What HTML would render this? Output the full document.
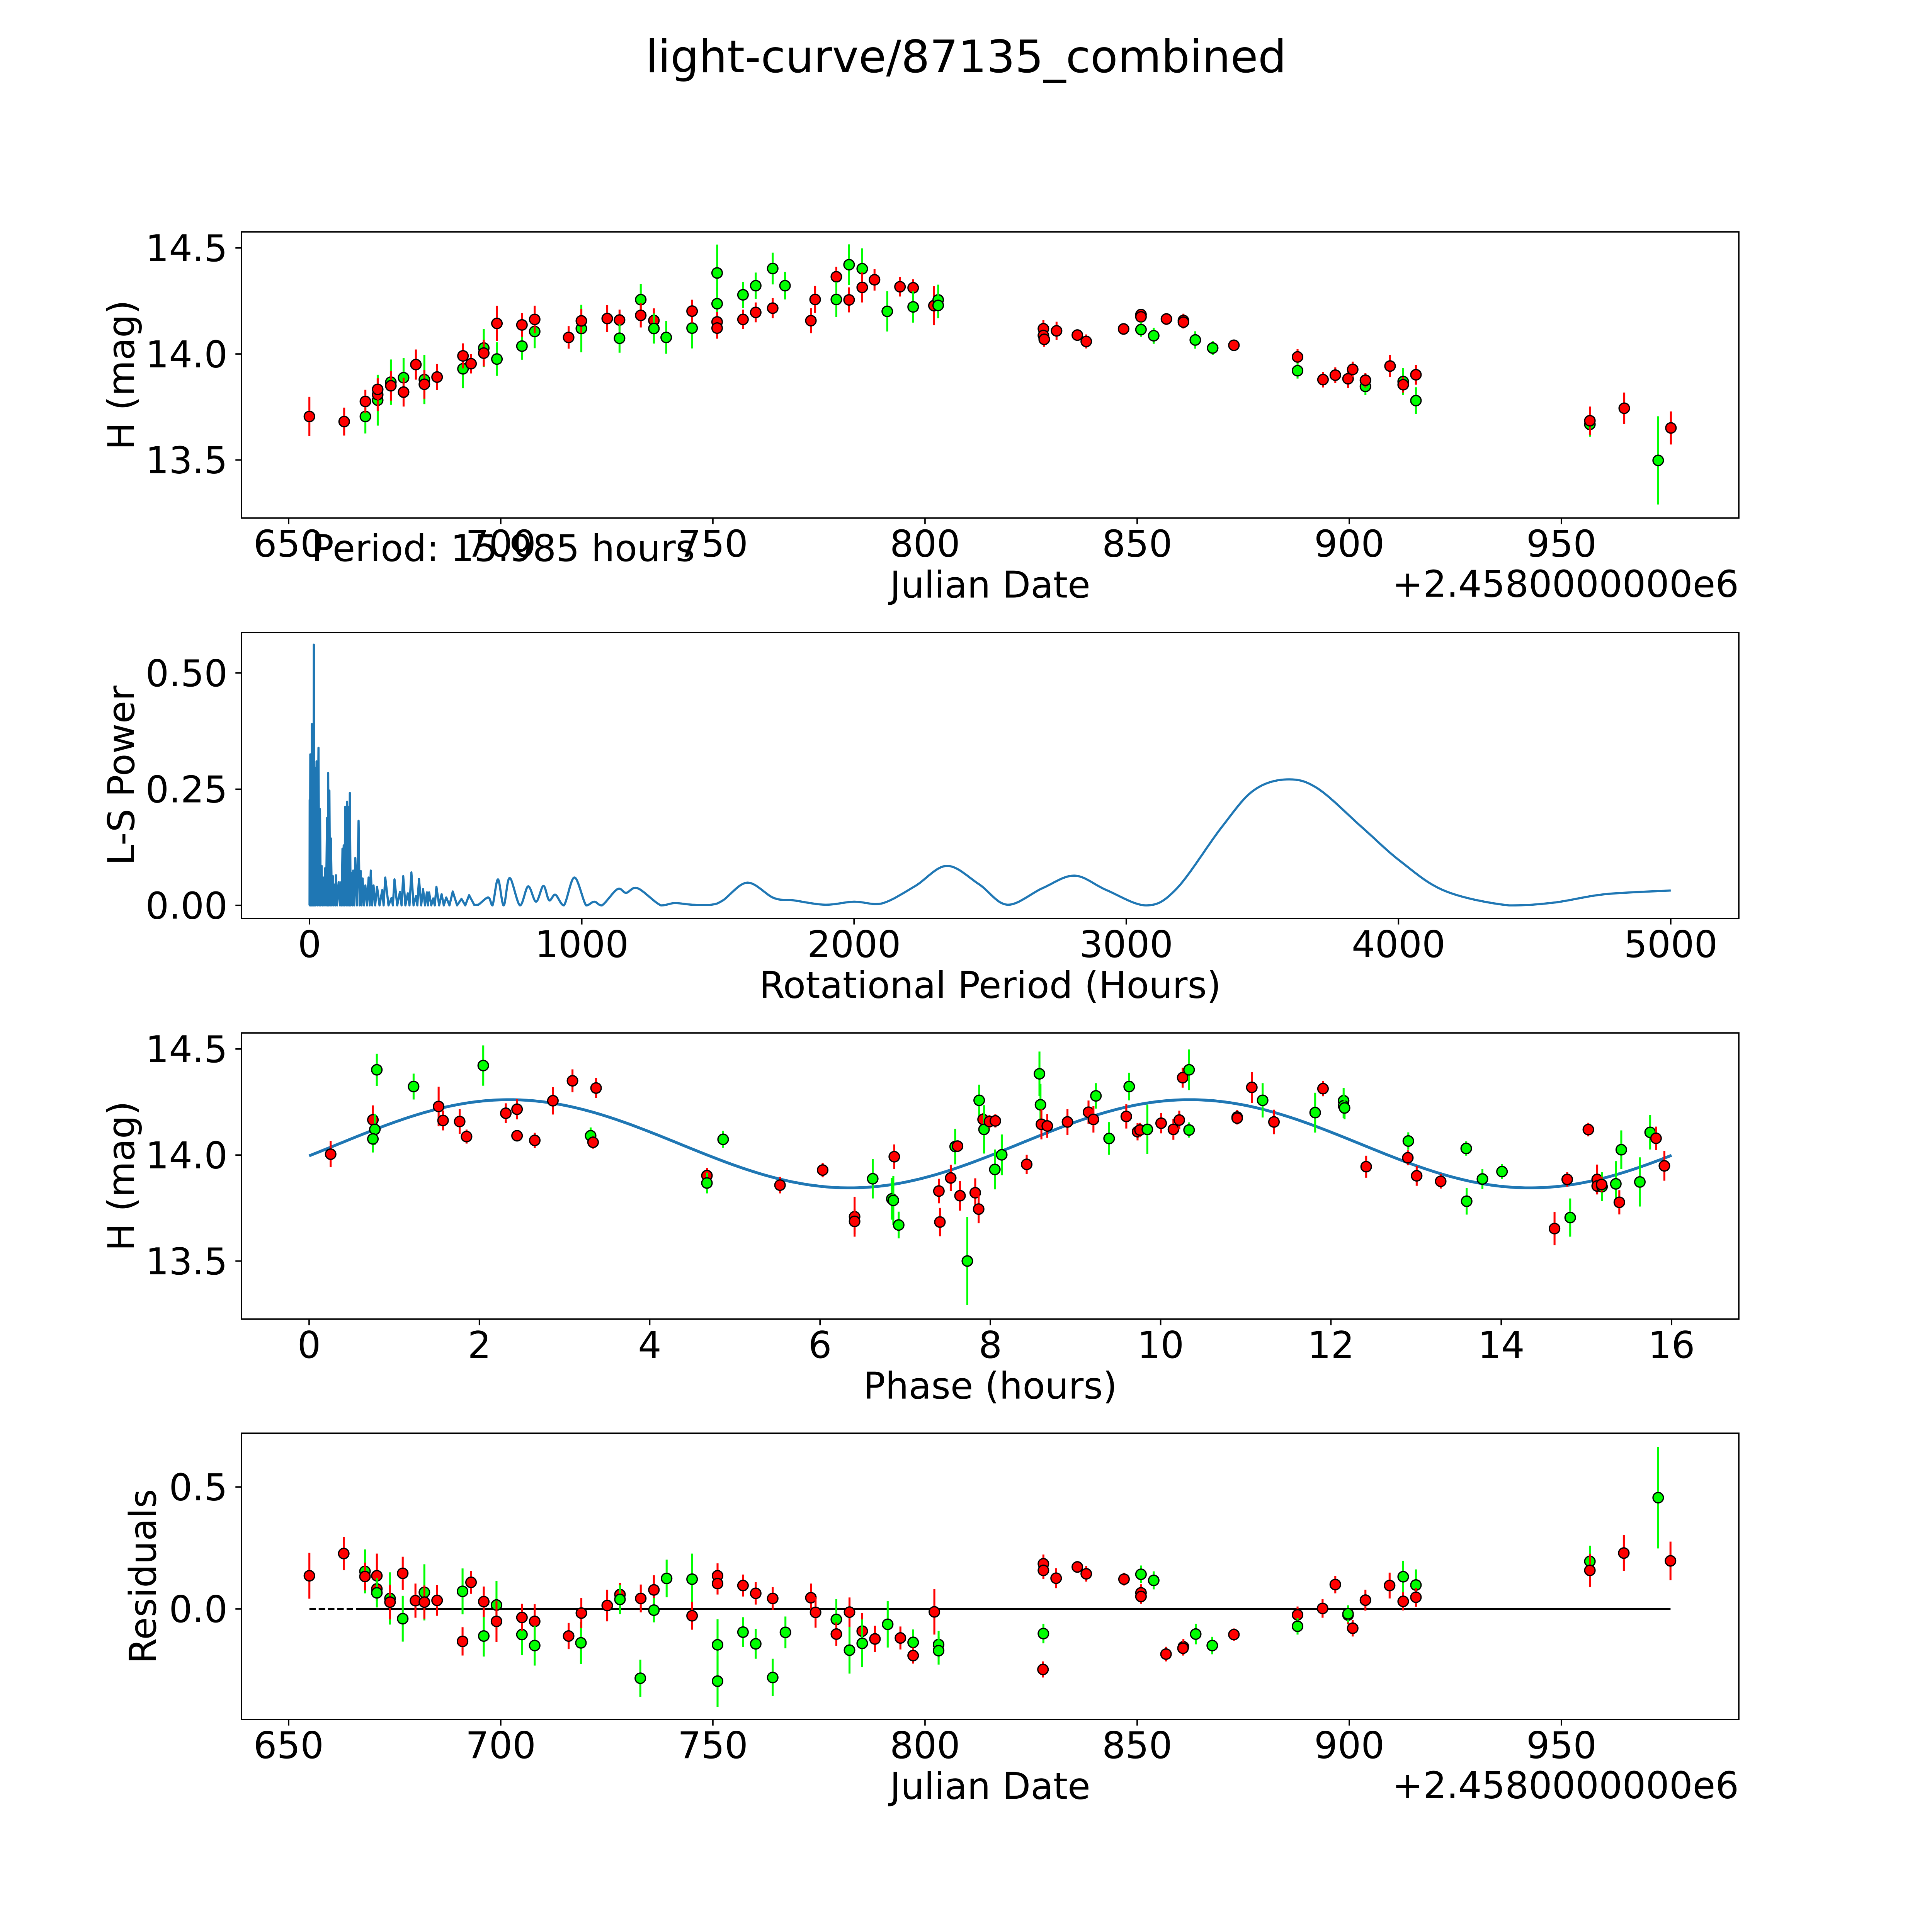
<!DOCTYPE html>
<html>
<head>
<meta charset="utf-8">
<style>
html,body{margin:0;padding:0;background:#fff;width:100%;height:100%;overflow:hidden;}
svg{display:block;width:100vw;height:100vh;}
text{font-family:"DejaVu Sans","Liberation Sans",sans-serif;fill:#000;}
</style>
</head>
<body>
<svg id="fig" xmlns="http://www.w3.org/2000/svg" viewBox="0 0 5400 5400" preserveAspectRatio="none">
<rect x="0" y="0" width="5400" height="5400" fill="#fff"/>
<text x="2700" y="202" font-size="125" text-anchor="middle">light-curve/87135_combined</text>
</svg>
<script>
// ---------- Panel 1: light curve ----------
const lcDay = [654.9,663.1,668.1,668.1,671.0,671.0,671.0,674.1,674.1,677.1,677.1,680.0,682.0,682.0,685.0,691.1,691.1,693.0,696.0,696.0,699.1,699.1,705.0,705.0,708.0,708.0,716.0,719.0,719.0,725.1,728.0,728.0,733.0,733.0,736.1,736.1,739.0,745.1,745.1,751.0,751.0,751.0,751.0,757.1,757.1,760.1,760.1,764.1,764.1,767.0,773.1,774.1,779.1,779.1,782.1,782.1,785.2,785.2,788.1,791.1,794.1,797.2,797.2,802.1,803.1,803.1,
827.9,827.9,828.1,831.0,835.9,838.0,846.8,850.9,850.9,850.9,853.9,856.9,860.9,860.9,863.7,867.8,872.8,887.8,887.8,893.8,896.7,899.7,900.8,903.8,903.8,909.6,912.7,912.7,915.7,915.7,956.7,956.7,964.8,972.8,975.8];
const lcMag = [13.705,13.681,13.705,13.776,13.782,13.808,13.833,13.867,13.850,13.888,13.820,13.950,13.879,13.857,13.891,13.930,13.991,13.954,14.028,14.004,13.976,14.144,14.037,14.137,14.106,14.163,14.078,14.120,14.156,14.167,14.160,14.074,14.256,14.182,14.158,14.120,14.078,14.122,14.202,14.382,14.237,14.151,14.122,14.279,14.163,14.322,14.196,14.403,14.216,14.322,14.157,14.257,14.364,14.257,14.421,14.255,14.402,14.314,14.350,14.201,14.317,14.312,14.222,14.228,14.255,14.229,
14.119,14.087,14.069,14.109,14.089,14.059,14.118,14.186,14.175,14.115,14.086,14.165,14.158,14.150,14.066,14.028,14.041,13.986,13.921,13.879,13.900,13.883,13.927,13.847,13.876,13.943,13.870,13.855,13.902,13.780,13.668,13.685,13.744,13.498,13.651];
const lcErr = [0.093,0.066,0.08,0.055,0.12,0.077,0.05,0.107,0.07,0.093,0.068,0.071,0.116,0.068,0.062,0.092,0.059,0.046,0.09,0.063,0.079,0.083,0.064,0.056,0.079,0.065,0.053,0.112,0.057,0.063,0.049,0.068,0.074,0.057,0.057,0.071,0.077,0.096,0.054,0.134,0.077,0.047,0.05,0.062,0.046,0.062,0.047,0.075,0.047,0.065,0.059,0.064,0.047,0.083,0.096,0.059,0.096,0.071,0.051,0.095,0.046,0.04,0.074,0.092,0.072,0.06,
0.041,0.04,0.035,0.043,0.024,0.033,0.025,0.025,0.02,0.034,0.038,0.028,0.032,0.03,0.041,0.033,0.025,0.036,0.037,0.037,0.037,0.043,0.037,0.041,0.034,0.052,0.063,0.037,0.047,0.063,0.058,0.067,0.074,0.208,0.078];
const lcBand = ["r","r","g","r","g","r","r","g","r","g","r","r","g","r","r","g","r","r","g","r","g","r","g","r","g","r","r","g","r","r","r","g","g","r","r","g","g","g","r","g","g","r","r","g","r","g","r","g","r","g","r","r","r","g","g","r","g","r","r","g","r","r","g","r","g","g",
"r","r","r","r","r","r","r","r","r","g","g","r","r","r","g","g","r","r","g","r","r","r","r","g","r","r","g","r","r","g","g","r","r","g","r"];
const lcXTicks = [650,700,750,800,850,900,950];
const lcYTicks = [13.5,14.0,14.5];
const lcYTickLabels = ["13.5","14.0","14.5"];

// ---------- Panel 2: Lomb-Scargle periodogram ----------
const lsPeriod = [0,0.5,1.5,2.9,4.5,6,7,8.6,11,13,14.5,15.7,17.5,20,22.5,25.7,29,32.8,35.5,38.5,41,44.2,47,50,53,57.1,60.5,64.2,66.5,68.5,70.5,72.8,75.5,78.5,82,85.6,89,93,95,97,101,107,112,116,118,121,123,125.5,128,131,134.5,138,141,144,146,148,151,155.5,158,160,164,168,174,180,184,188,191,195,200,205,211,217,221,225,230,235,241,248,257,267,272,278,290,301,306,312,322,332,338,344,352,361,367,374,382,391,396,402,410,417,424,431,435,439,447,454,460,466,476,485,493,502,514,526,542,558,572,586,605,620,
656,672,692,713,735,773,803,832,859,880,903,934,973,1016,1046,1074,1131,1163,1205,1291,1341,1405,1476,1519,1608,1705,1776,1894,2000,2101,2223,2340,2458,2563,2692,2810,2927,3073,3185,3350,3467,3589,3702,3866,4007,4171,4406,4571,4758,5000];
const lsPower = [0,0.227,0,0.325,0,0.16,0,0.39,0,0.1,0,0.561,0,0.296,0,0.31,0,0.339,0,0.207,0,0.085,0,0.06,0,0.08,0,0.188,0,0.285,0,0.247,0,0.144,0,0.063,0,0.045,0,0.065,0,0.05,0,0.05,0,0.122,0,0.129,0,0.212,0,0.223,0,0.212,0,0.242,0,0.07,0,0.075,0,0.102,0,0.182,0,0.074,0,0.058,0,0.043,0,0.06,0,0.075,0,0.043,0,0.04,0,0.033,0,0.06,0,0.016,0,0.056,0,0.029,0,0.063,0,0.026,0,0.071,0,0.02,0,0.057,0,0.035,0,0.028,0,0.028,0,0.015,0,0.04,0,0.024,0,0.017,0,0.03,0,0.014,0,0.022,0.001,0.0015,
0.017,0,0.056,0,0.059,0,0.041,0.008,0.042,0.011,0.023,0,0.06,0,0.008,0,0.035,0.027,0.037,0,0.005,0.0015,0.0015,0.011,0.049,0.016,0.011,0.0015,0.008,0.004,0.041,0.085,0.046,0.0015,0.037,0.064,0.033,0,0.036,0.168,0.247,0.271,0.252,0.168,0.095,0.031,0,0.006,0.024,0.032];
const lsXTicks = [0,1000,2000,3000,4000,5000];
const lsYTicks = [0,0.25,0.5];
const lsYTickLabels = ["0.00","0.25","0.50"];

// ---------- Panel 3: phased light curve ----------
const phHour = [0.253,0.749,0.772,0.749,0.795,1.227,1.521,1.573,1.768,1.849,2.045,2.310,2.442,2.442,2.650,2.863,3.093,3.306,3.335,3.370,4.672,4.672,4.862,5.530,6.031,6.406,6.406,6.619,6.843,6.861,6.872,6.924,7.396,7.408,7.535,7.587,7.615,7.644,7.730,7.823,7.863,7.869,7.915,7.926,7.990,8.059,8.053,8.134,
8.427,8.577,8.589,8.600,8.669,8.906,9.153,9.211,9.240,9.395,9.597,9.631,9.729,9.758,9.844,10.006,10.150,10.219,10.259,10.334,10.334,10.899,10.899,11.071,11.198,11.331,11.815,11.907,12.149,12.149,12.160,12.414,12.909,12.903,13.007,13.289,13.589,13.594,13.779,14.009,14.626,14.775,14.810,15.023,15.127,15.127,15.184,15.179,15.346,15.387,15.410,15.628,15.749,15.818,15.916];
const phMag = [14.004,14.166,14.121,14.076,14.402,14.323,14.229,14.163,14.158,14.087,14.422,14.197,14.216,14.091,14.069,14.256,14.350,14.091,14.060,14.316,13.903,13.868,14.074,13.858,13.929,13.709,13.687,13.888,13.793,13.786,13.992,13.670,13.830,13.684,13.892,14.040,14.042,13.808,13.500,13.822,13.745,14.258,14.168,14.121,14.158,14.161,13.932,14.001,
13.956,14.383,14.237,14.145,14.137,14.156,14.202,14.168,14.279,14.078,14.182,14.323,14.110,14.118,14.121,14.150,14.121,14.165,14.365,14.402,14.118,14.179,14.174,14.319,14.258,14.156,14.200,14.313,14.256,14.232,14.222,13.945,14.066,13.987,13.902,13.876,14.031,13.782,13.887,13.922,13.653,13.885,13.705,14.120,13.885,13.854,13.851,13.861,13.864,13.777,14.025,13.873,14.107,14.079,13.949];
const phErr = [0.062,0.068,0.073,0.064,0.076,0.061,0.093,0.047,0.059,0.033,0.095,0.047,0.048,0.023,0.036,0.065,0.054,0.039,0.03,0.047,0.036,0.049,0.04,0.039,0.034,0.094,0.06,0.093,0.098,0.116,0.058,0.063,0.058,0.067,0.062,0.084,0.022,0.07,0.208,0.068,0.067,0.074,0.03,0.114,0.03,0.031,0.094,0.096,
0.045,0.105,0.099,0.071,0.056,0.061,0.055,0.062,0.06,0.077,0.057,0.065,0.041,0.034,0.117,0.048,0.049,0.044,0.047,0.096,0.036,0.034,0.03,0.073,0.081,0.058,0.094,0.036,0.061,0.058,0.053,0.052,0.041,0.035,0.047,0.034,0.034,0.063,0.047,0.035,0.078,0.034,0.09,0.032,0.07,0.04,0.068,0.037,0.107,0.057,0.091,0.116,0.081,0.055,0.07];
const phBand = ["r","r","g","g","g","g","r","r","r","r","g","r","r","r","r","r","r","g","r","r","r","g","g","r","r","r","r","g","g","g","r","g","r","r","r","g","r","r","g","r","r","g","r","g","r","r","g","g",
"r","g","g","r","r","r","r","r","g","g","r","g","r","r","g","r","r","r","r","g","g","r","r","r","g","r","g","r","g","g","g","r","g","r","r","r","g","g","g","g","r","r","g","r","r","r","g","r","g","r","g","g","g","r","r"];
const fitMean = 14.053;
const fitAmp = 0.208;
const fitPeakHour = 2.35;
const fitCycleHours = 7.9925;
const phXTicks = [0,2,4,6,8,10,12,14,16];

// ---------- Panel 4: residuals ----------
const resDay = [654.9,663.0,668.0,668.0,670.8,670.8,670.8,673.9,673.9,676.9,676.9,679.9,682.0,682.0,685.0,691.0,691.0,693.0,696.0,696.0,699.0,699.0,705.0,705.0,708.0,708.0,716.0,718.9,719.0,725.1,728.1,728.1,732.9,733.0,736.1,736.1,739.1,745.1,745.1,751.1,751.1,751.1,751.1,757.1,757.1,760.1,760.1,764.1,764.1,767.1,773.1,774.2,779.1,779.1,782.2,782.2,785.2,785.2,788.2,791.2,794.2,797.2,797.2,802.2,803.2,803.2,
827.9,827.9,827.9,827.8,830.9,835.9,838.0,846.9,850.9,850.9,850.9,853.9,856.8,860.9,860.8,863.8,867.7,872.8,887.8,887.8,893.7,896.7,899.7,899.7,900.8,903.8,909.5,912.7,912.7,915.7,915.7,956.7,956.7,964.7,972.8,975.7];
const resVal = [0.136,0.227,0.154,0.133,0.136,0.082,0.066,0.043,0.028,0.146,-0.040,0.034,0.068,0.028,0.035,0.072,-0.133,0.109,-0.111,0.030,0.016,-0.051,-0.105,-0.035,-0.051,-0.150,-0.111,-0.139,-0.017,0.014,0.059,0.039,-0.284,0.043,0.078,-0.005,0.125,0.122,-0.028,0.136,0.104,-0.147,-0.296,0.096,-0.095,0.064,-0.143,0.043,-0.281,-0.096,0.046,-0.014,-0.043,-0.103,-0.013,-0.169,-0.091,-0.141,-0.123,-0.063,-0.119,-0.137,-0.191,-0.012,-0.146,-0.171,
0.185,0.158,-0.101,-0.248,0.126,0.172,0.144,0.122,0.142,0.066,0.051,0.117,-0.185,-0.155,-0.161,-0.103,-0.150,-0.105,-0.024,-0.071,0.002,0.1,-0.025,-0.02,-0.079,0.036,0.096,0.132,0.031,0.098,0.048,0.195,0.158,0.229,0.456,0.197];
const resErr = [0.094,0.068,0.09,0.057,0.091,0.05,0.06,0.107,0.071,0.068,0.094,0.07,0.115,0.068,0.063,0.094,0.058,0.047,0.084,0.062,0.098,0.084,0.084,0.056,0.07,0.082,0.054,0.086,0.062,0.065,0.048,0.06,0.076,0.057,0.06,0.05,0.077,0.105,0.057,0.051,0.045,0.105,0.105,0.045,0.061,0.046,0.061,0.047,0.077,0.065,0.058,0.063,0.083,0.048,0.06,0.096,0.074,0.098,0.054,0.095,0.047,0.053,0.033,0.093,0.056,0.057,
0.038,0.035,0.04,0.033,0.041,0.024,0.032,0.026,0.036,0.035,0.03,0.037,0.03,0.032,0.03,0.042,0.036,0.025,0.034,0.034,0.038,0.036,0.038,0.035,0.034,0.043,0.053,0.065,0.037,0.064,0.039,0.064,0.068,0.074,0.208,0.079];
const resBand = ["r","r","g","r","r","r","g","g","r","r","g","r","g","r","r","g","r","r","g","r","g","r","g","r","r","g","r","g","r","r","r","g","g","r","r","g","g","g","r","r","r","g","g","r","g","r","g","r","g","g","r","r","g","r","r","g","r","g","r","g","r","g","r","r","g","g",
"r","r","g","r","r","r","r","r","g","r","r","g","r","r","r","g","g","r","r","g","r","r","r","g","r","r","r","g","r","g","r","g","r","r","g","r"];
const resYTicks = [0,0.5];
const resYTickLabels = ["0.0","0.5"];

// ---------- drawing ----------
const NS = "http://www.w3.org/2000/svg";
const svg = document.getElementById("fig");
const AX_L = 675, AX_R = 4860;
const FS = 103;
const COLORS = {r:"#ff0000", g:"#00ff00"};

function el(tag, parent) {
  const e = document.createElementNS(NS, tag);
  (parent || svg).appendChild(e);
  return e;
}
function makeAxis(top, bot, xmin, xmax, ymin, ymax) {
  return {top:top, bot:bot, xmin:xmin, xmax:xmax, ymin:ymin, ymax:ymax,
    sx: function(v){ return AX_L + (v - xmin) / (xmax - xmin) * (AX_R - AX_L); },
    sy: function(v){ return bot - (v - ymin) / (ymax - ymin) * (bot - top); }};
}
const ax1 = makeAxis(648, 1448, 638.9, 991.8, 13.226, 14.576);
const ax2 = makeAxis(1768, 2567, -250, 5250, -0.028, 0.587);
const ax3 = makeAxis(2887, 3687, -0.794, 16.79, 13.226, 14.576);
const ax4 = makeAxis(4006, 4806, 638.9, 991.8, -0.453, 0.720);

function drawFrame(ax, name, xTicks, xLabels, yTicks, yLabels, xTitle, yTitle, yTitleX) {
  const g = el("g");
  
  
  xTicks.forEach(function(t, i) {
    const x = ax.sx(t);
    const tk = el("line", g);
    tk.setAttribute("x1", x); tk.setAttribute("x2", x);
    tk.setAttribute("y1", ax.bot); tk.setAttribute("y2", ax.bot + 17);
    tk.setAttribute("stroke", "#000"); tk.setAttribute("stroke-width", "4");
    
    
    const tl = el("text", g);
    tl.setAttribute("x", x); tl.setAttribute("y", ax.bot + 108);
    tl.setAttribute("font-size", FS); tl.setAttribute("text-anchor", "middle");
    tl.textContent = xLabels[i];
    
    
  });
  yTicks.forEach(function(t, i) {
    const y = ax.sy(t);
    const tk = el("line", g);
    tk.setAttribute("x1", AX_L - 17); tk.setAttribute("x2", AX_L);
    tk.setAttribute("y1", y); tk.setAttribute("y2", y);
    tk.setAttribute("stroke", "#000"); tk.setAttribute("stroke-width", "4");
    
    
    const tl = el("text", g);
    tl.setAttribute("x", AX_L - 39); tl.setAttribute("y", y + 37);
    tl.setAttribute("font-size", FS); tl.setAttribute("text-anchor", "end");
    tl.textContent = yLabels[i];
    
    
  });
  const xt = el("text", g);
  xt.setAttribute("x", (AX_L + AX_R) / 2); xt.setAttribute("y", ax.bot + 222);
  xt.setAttribute("font-size", FS); xt.setAttribute("text-anchor", "middle");
  xt.textContent = xTitle;
  
  
  const cy = (ax.top + ax.bot) / 2;
  const yt = el("text", g);
  yt.setAttribute("x", yTitleX); yt.setAttribute("y", cy);
  yt.setAttribute("font-size", FS); yt.setAttribute("text-anchor", "middle");
  yt.setAttribute("transform", "rotate(-90 " + yTitleX + " " + cy + ")");
  yt.textContent = yTitle;
  
  
  return g;
}
function drawBorder(ax, name) {
  const r = el("rect");
  r.setAttribute("x", AX_L); r.setAttribute("y", ax.top);
  r.setAttribute("width", AX_R - AX_L); r.setAttribute("height", ax.bot - ax.top);
  r.setAttribute("fill", "none"); r.setAttribute("stroke", "#000"); r.setAttribute("stroke-width", "4");
  
  
}
function drawPoints(ax, name, xs, ys, errs, bands) {
  const g = el("g");
  
  
  for (let i = 0; i < xs.length; i++) {
    const x = ax.sx(xs[i]);
    const bar = el("line", g);
    bar.setAttribute("x1", x); bar.setAttribute("x2", x);
    bar.setAttribute("y1", ax.sy(ys[i] - errs[i])); bar.setAttribute("y2", ax.sy(ys[i] + errs[i]));
    bar.setAttribute("stroke", COLORS[bands[i]]); bar.setAttribute("stroke-width", "5.5");
    
    
    const c = el("circle", g);
    c.setAttribute("cx", x); c.setAttribute("cy", ax.sy(ys[i])); c.setAttribute("r", "14.5");
    c.setAttribute("fill", COLORS[bands[i]]); c.setAttribute("stroke", "#000"); c.setAttribute("stroke-width", "3.5");
    
    
  }
}
function fmtTicks(arr) { return arr.map(function(v){ return String(v); }); }

// Panel 1
drawFrame(ax1, "light-curve", lcXTicks, fmtTicks(lcXTicks), lcYTicks, lcYTickLabels, "Julian Date", "H (mag)", 375);
drawPoints(ax1, "light-curve", lcDay, lcMag, lcErr, lcBand);
drawBorder(ax1, "light-curve");
const off1 = el("text");
off1.setAttribute("x", AX_R); off1.setAttribute("y", ax1.bot + 220);
off1.setAttribute("font-size", FS); off1.setAttribute("text-anchor", "end");
off1.textContent = "+2.4580000000e6";


const per = el("text");
per.setAttribute("x", 871); per.setAttribute("y", 1568);
per.setAttribute("font-size", FS);
per.textContent = "Period: 15.985 hours";



// Panel 2
drawFrame(ax2, "periodogram", lsXTicks, fmtTicks(lsXTicks), lsYTicks, lsYTickLabels, "Rotational Period (Hours)", "L-S Power", 375);
(function() {
  const pts = lsPeriod.map(function(p, i){ return [ax2.sx(p), ax2.sy(lsPower[i])]; });
  let d = "M" + pts[0][0].toFixed(1) + "," + pts[0][1].toFixed(1);
  for (let i = 1; i < pts.length; i++) {
    if (lsPeriod[i] <= 620) {
      d += "L" + pts[i][0].toFixed(1) + "," + pts[i][1].toFixed(1);
    } else {
      const p0 = pts[i - 2] || pts[i - 1], p1 = pts[i - 1], p2 = pts[i], p3 = pts[i + 1] || pts[i];
      const c1x = p1[0] + (p2[0] - p0[0]) / 6, c1y = p1[1] + (p2[1] - p0[1]) / 6;
      const c2x = p2[0] - (p3[0] - p1[0]) / 6, c2y = p2[1] - (p3[1] - p1[1]) / 6;
      d += "C" + c1x.toFixed(1) + "," + Math.min(c1y, ax2.sy(0)).toFixed(1) + " " + c2x.toFixed(1) + "," + Math.min(c2y, ax2.sy(0)).toFixed(1) + " " + p2[0].toFixed(1) + "," + p2[1].toFixed(1);
    }
  }
  const path = el("path");
  path.setAttribute("d", d);
  path.setAttribute("fill", "none"); path.setAttribute("stroke", "#1f77b4");
  path.setAttribute("stroke-width", "6"); path.setAttribute("stroke-linejoin", "round");
  
  
})();
drawBorder(ax2, "periodogram");

// Panel 3
drawFrame(ax3, "phased-curve", phXTicks, fmtTicks(phXTicks), lcYTicks, lcYTickLabels, "Phase (hours)", "H (mag)", 375);
(function() {
  let d = "";
  for (let k = 0; k <= 400; k++) {
    const ph = 16 * k / 400;
    const m = fitMean + fitAmp * Math.sin(2 * Math.PI * (ph - fitPeakHour + fitCycleHours / 4) / fitCycleHours);
    d += (k ? "L" : "M") + ax3.sx(ph).toFixed(1) + "," + ax3.sy(m).toFixed(1);
  }
  const path = el("path");
  path.setAttribute("d", d);
  path.setAttribute("fill", "none"); path.setAttribute("stroke", "#1f77b4"); path.setAttribute("stroke-width", "8");
  
  
})();
drawPoints(ax3, "phased-curve", phHour, phMag, phErr, phBand);
drawBorder(ax3, "phased-curve");

// Panel 4
drawFrame(ax4, "residuals", lcXTicks, fmtTicks(lcXTicks), resYTicks, resYTickLabels, "Julian Date", "Residuals", 435);
(function() {
  const x0 = ax4.sx(resDay[0]), x1 = ax4.sx(resDay[resDay.length - 1]), y0 = ax4.sy(0);
  const dash = el("line");
  dash.setAttribute("x1", x0); dash.setAttribute("x2", x1); dash.setAttribute("y1", y0); dash.setAttribute("y2", y0);
  dash.setAttribute("stroke", "#000"); dash.setAttribute("stroke-width", "5"); dash.setAttribute("stroke-dasharray", "18,8");
  
  
  const solid = el("line");
  solid.setAttribute("x1", ax4.sx(666.6)); solid.setAttribute("x2", x1); solid.setAttribute("y1", y0); solid.setAttribute("y2", y0);
  solid.setAttribute("stroke", "#000"); solid.setAttribute("stroke-width", "5");
  
  
})();
drawPoints(ax4, "residuals", resDay, resVal, resErr, resBand);
drawBorder(ax4, "residuals");
const off4 = el("text");
off4.setAttribute("x", AX_R); off4.setAttribute("y", ax4.bot + 220);
off4.setAttribute("font-size", FS); off4.setAttribute("text-anchor", "end");
off4.textContent = "+2.4580000000e6";


</script>
</body>
</html>
